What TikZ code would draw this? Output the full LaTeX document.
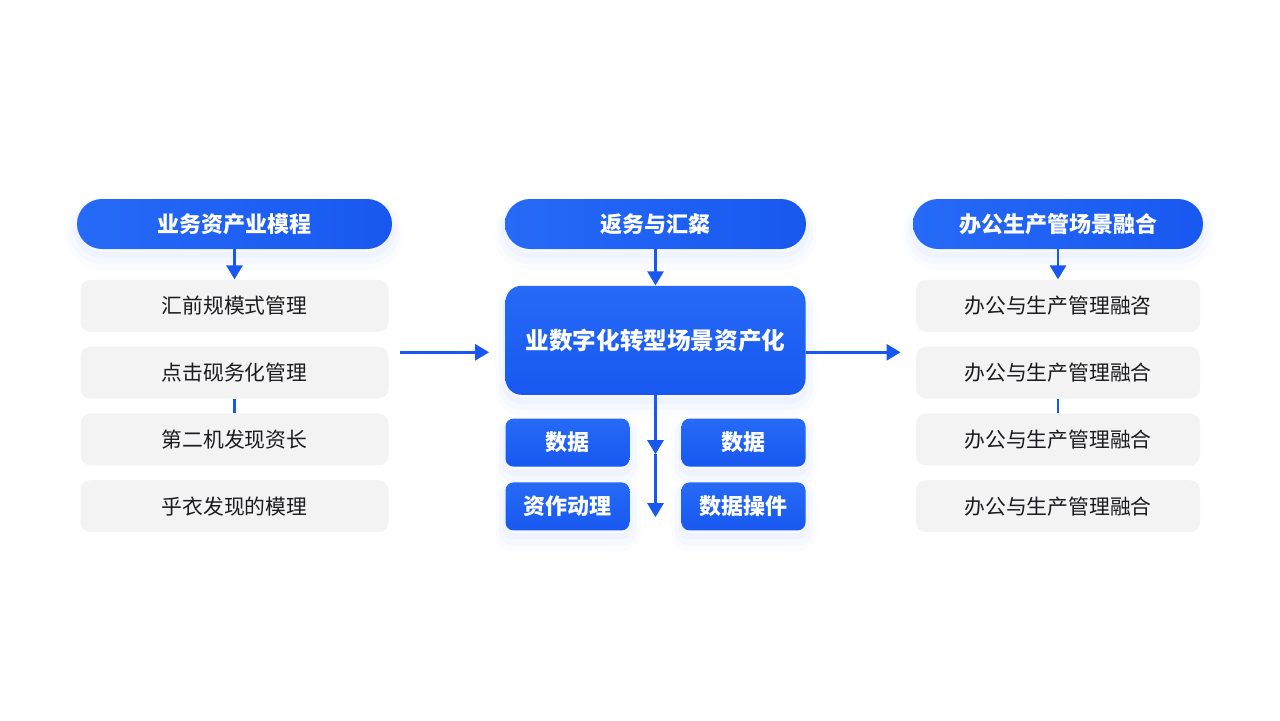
\documentclass[tikz,border=0pt]{standalone}
\usepackage{fontspec}
\setmainfont{Noto Sans CJK SC}
\usetikzlibrary{arrows.meta, positioning}

\definecolor{flowblue}{RGB}{24,88,240}
\definecolor{flowlight}{RGB}{38,106,247}
\definecolor{cardgray}{RGB}{243,243,244}
\definecolor{inkgray}{RGB}{28,28,32}
\definecolor{glowblue}{RGB}{70,125,245}

\tikzset{
    glow/.style={
        preaction={draw=glowblue, line width=11pt, draw opacity=0.025, transform canvas={yshift=-5pt}},
        preaction={draw=glowblue, line width=7pt, draw opacity=0.03, transform canvas={yshift=-4pt}},
        preaction={draw=glowblue, line width=3pt, draw opacity=0.04, transform canvas={yshift=-3pt}}}
}

\begin{document}
\begin{tikzpicture}[
    x=0.5pt, y=0.5pt,
    node distance=7pt,
    header/.style={rectangle, rounded corners=12.5pt, left color=flowlight, right color=flowblue, text=white, minimum height=25pt, inner sep=0pt, font=\fontsize{11}{13}\selectfont\bfseries, glow},
    card/.style={rectangle, rounded corners=5pt, fill=cardgray, text=inkgray, minimum height=26pt, inner sep=0pt, font=\fontsize{10.4}{12}\selectfont},
    core/.style={rectangle, rounded corners=8pt, top color=flowlight, bottom color=flowblue, text=white, minimum width=150pt, minimum height=54.5pt, inner sep=0pt, font=\fontsize{11.8}{14}\selectfont\bfseries, glow},
    tile/.style={rectangle, rounded corners=4pt, top color=flowlight, bottom color=flowblue, text=white, minimum width=62pt, minimum height=24pt, inner sep=0pt, font=\fontsize{11}{13}\selectfont\bfseries, glow},
    flow/.style={draw=flowblue, line width=1.3pt, -{Triangle[length=7pt, width=8pt]}},
    tick/.style={draw=flowblue, line width=1.3pt}
]
    \useasboundingbox (0,0) rectangle (1280,720);

    % Left column
    \node [header, minimum width=157.5pt] (lhead) at (234.5,496) {业务资产业模程};
    \node [card, minimum width=154pt, below=15pt of lhead] (lcard1) {汇前规模式管理};
    \node [card, minimum width=154pt, below=of lcard1] (lcard2) {点击砚务化管理};
    \node [card, minimum width=154pt, below=of lcard2] (lcard3) {第二机发现资长};
    \node [card, minimum width=154pt, below=of lcard3] (lcard4) {乎衣发现的模理};

    % Center column
    \node [header, minimum width=150.5pt] (chead) at (655.5,496) {返务与汇粲};
    \node [core, below=18pt of chead] (core) {业数字化转型场景资产化};
    \node [tile, below right=11.5pt and 0pt of core.south west] (tile1) {数据};
    \node [tile, below=7.5pt of tile1] (tile2) {资作动理};
    \node [tile, below left=11.5pt and 0pt of core.south east] (tile3) {数据};
    \node [tile, below=7.5pt of tile3] (tile4) {数据操件};

    % Right column
    \node [header, minimum width=145pt] (rhead) at (1058,496) {办公生产管场景融合};
    \node [card, minimum width=142pt, below=15pt of rhead] (rcard1) {办公与生产管理融咨};
    \node [card, minimum width=142pt, below=of rcard1] (rcard2) {办公与生产管理融合};
    \node [card, minimum width=142pt, below=of rcard2] (rcard3) {办公与生产管理融合};
    \node [card, minimum width=142pt, below=of rcard3] (rcard4) {办公与生产管理融合};

    % Down arrow end points
    \coordinate (mid) at ([yshift=-29.5pt]core.south);
    \coordinate (tail) at ([yshift=-61pt]core.south);

    % Connections
    \path [flow] (lhead.south) -- (lcard1.north);
    \path [tick] (lcard2.south) -- (lcard3.north);
    \path [flow] (chead.south) -- (core.north);
    \path [flow] (rhead.south) -- (rcard1.north);
    \path [tick] (rcard2.south) -- (rcard3.north);

    \path [flow] ([xshift=5.5pt, yshift=-6pt]lcard1.east |- core.west) -- ([xshift=-8pt, yshift=-6pt]core.west);
    \path [flow] ([yshift=-6pt]core.east) -- ([xshift=-7.5pt, yshift=-6pt]rcard1.west |- core.east);
    \path [flow] (core.south) -- (mid);
    \path [flow] (mid) -- (tail);

\end{tikzpicture}
\end{document}
